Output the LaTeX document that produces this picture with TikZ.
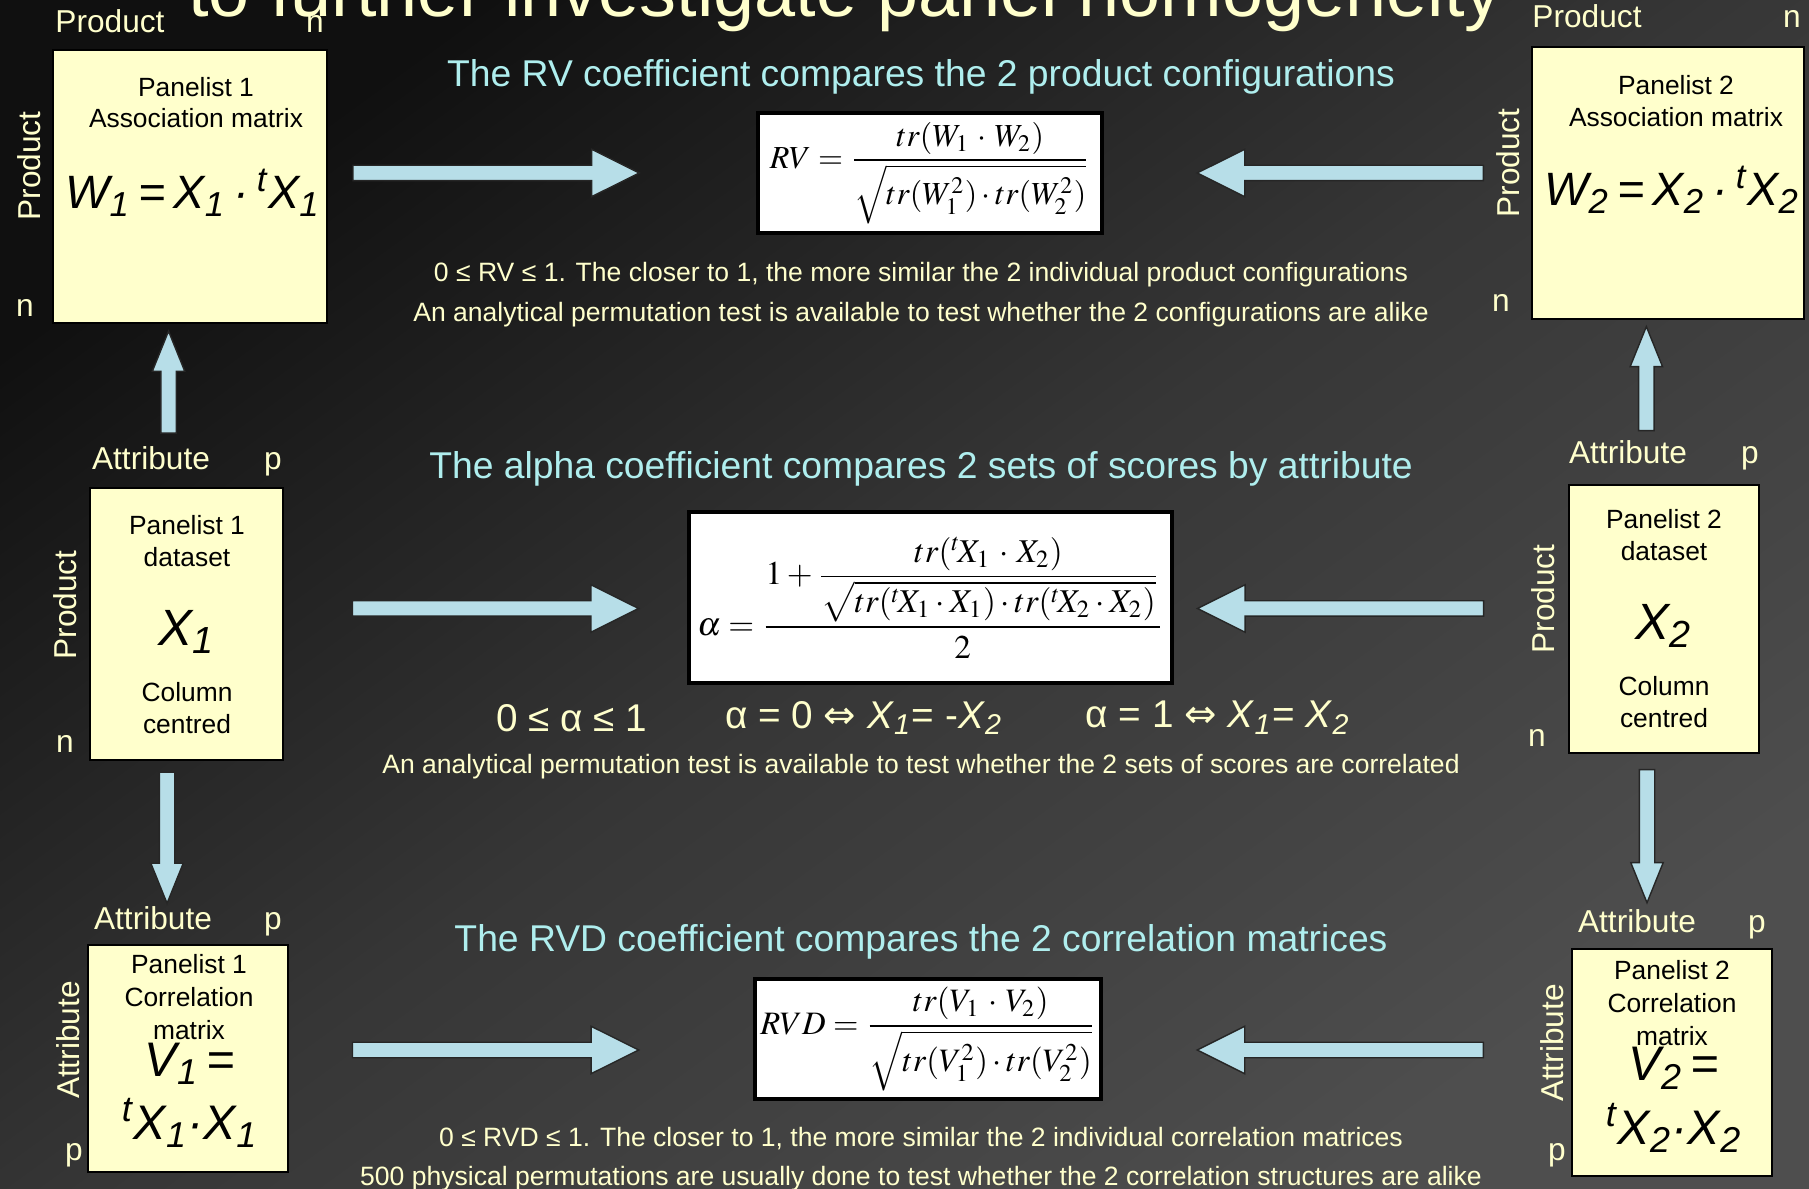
\documentclass[tikz,border=0pt]{standalone}
\usepackage{graphicx}
\usepackage{amsmath}
\usepackage{mathptmx}
\usepackage[no-math]{fontspec}
\setmainfont{Liberation Sans}
\newfontfamily\arrowsymbols{DejaVu Sans}
\usetikzlibrary{
  positioning,
  calc,
  shapes.arrows
}
\definecolor{panelyellow}{RGB}{255,255,204}
\definecolor{creamtext}{RGB}{255,255,204}
\definecolor{headcyan}{RGB}{175,238,238}
\definecolor{arrowblue}{RGB}{183,222,232}
\definecolor{bgdark}{RGB}{16,16,16}
\definecolor{bgmid}{RGB}{54,54,54}
\definecolor{bglight}{RGB}{78,78,78}
\tikzset{
  panelbox/.style={draw=black,line width=0.75pt,fill=panelyellow,inner sep=0pt},
  boxcaption/.style={
    align=center,
    inner sep=0pt,
    text=black,
    font=\fontsize{7.5}{8.9}\selectfont
  },
  boxsymbol/.style={
    align=center,
    inner sep=0pt,
    text=black,
    font=\fontsize{14.5}{18}\selectfont\itshape
  },
  axislabel/.style={inner sep=0pt,text=creamtext,font=\fontsize{9}{10}\selectfont},
  formulabox/.style={draw=black,line width=1pt,fill=white,inner sep=0pt},
  heading/.style={inner sep=0pt,text=headcyan,font=\fontsize{10.6}{12}\selectfont},
  note/.style={inner sep=0pt,text=creamtext,font=\fontsize{7.55}{9}\selectfont},
  rangenote/.style={inner sep=0pt,text=creamtext,font=\fontsize{11}{12}\selectfont},
  hblock/.style={
    single arrow,
    draw=black!85,
    line width=0.4pt,
    fill=arrowblue,
    inner sep=0.07cm,
    minimum width=0pt,
    single arrow head extend=0.16cm,
    single arrow tip angle=53,
    minimum height=2.86cm
  },
  vblock/.style={hblock,single arrow head extend=0.085cm,single arrow tip angle=44}
}
\begin{document}
\begin{tikzpicture}[x=0.01cm,y=-0.01cm]
  \useasboundingbox (0,0) rectangle (1809,1189);
  \clip (0,0) rectangle (1809,1189);
  \shade[top color=bgdark,bottom color=bglight,middle color=bgmid,shading angle=36]
    (0,0) rectangle (1809,1189);
  \node[anchor=base,inner sep=0pt,text=creamtext,font=\fontsize{21}{24}\selectfont] (title)
    at (845,17) {to further investigate panel homogeneity};

  \node[panelbox,minimum width=2.74cm,minimum height=2.73cm] (w1) at (190,186.5) {};
  \node[boxcaption] (w1-cap) at (196,102.5) {Panelist 1\\Association matrix};
  \node[boxsymbol,font=\fontsize{13.3}{16}\selectfont\itshape] (w1-eq) at (193,193) {W\textsubscript{1}\,=\,X\textsubscript{1}\,·\,\textsuperscript{t}X\textsubscript{1}};
  \node[axislabel,anchor=base] (w1-top) at (110,33) {Product};
  \node[axislabel,anchor=base] (w1-topn) at (315,33) {n};
  \node[axislabel,rotate=90] (w1-side) at (29,166) {Product};
  \node[axislabel,anchor=base] (w1-siden) at (25,317) {n};

  \node[panelbox,minimum width=1.93cm,minimum height=2.72cm] (x1) at (186.5,624) {};
  \node[boxcaption] (x1-cap) at (187,541) {Panelist 1\\dataset};
  \node[boxsymbol] (x1-eq) at (187,632) {X\textsubscript{1}};
  \node[boxcaption] (x1-note) at (187,708) {Column\\centred};
  \node[axislabel,anchor=base] (x1-top) at (151,470) {Attribute};
  \node[axislabel,anchor=base] (x1-topp) at (273,470) {p};
  \node[axislabel,rotate=90] (x1-side) at (65,605) {Product};
  \node[axislabel,anchor=base] (x1-siden) at (65,753) {n};

  \node[panelbox,minimum width=2.00cm,minimum height=2.27cm] (v1) at (188,1058.5) {};
  \node[boxcaption,font=\fontsize{7.5}{9.4}\selectfont] (v1-cap) at (189,997) {Panelist 1\\Correlation\\matrix};
  \node[boxsymbol,font=\fontsize{13.8}{18}\selectfont\itshape] (v1-eq) at (190,1095) {V\textsubscript{1}\,=\\\textsuperscript{t}X\textsubscript{1}·X\textsubscript{1}};
  \node[axislabel,anchor=base] (v1-top) at (153,930) {Attribute};
  \node[axislabel,anchor=base] (v1-topp) at (273,930) {p};
  \node[axislabel,rotate=90] (v1-side) at (68,1040) {Attribute};
  \node[axislabel,anchor=base] (v1-sidep) at (74,1160) {p};

  \node[panelbox,minimum width=2.72cm,minimum height=2.72cm] (w2) at (1668,183) {};
  \node[boxcaption] (w2-cap) at (1676,101) {Panelist 2\\Association matrix};
  \node[boxsymbol,font=\fontsize{13.3}{16}\selectfont\itshape] (w2-eq) at (1672,190) {W\textsubscript{2}\,=\,X\textsubscript{2}\,·\,\textsuperscript{t}X\textsubscript{2}};
  \node[axislabel,anchor=base] (w2-top) at (1587,28) {Product};
  \node[axislabel,anchor=base] (w2-topn) at (1792,28) {n};
  \node[axislabel,rotate=90] (w2-side) at (1508,163) {Product};
  \node[axislabel,anchor=base] (w2-siden) at (1501,312) {n};

  \node[panelbox,minimum width=1.90cm,minimum height=2.68cm] (x2) at (1664,619) {};
  \node[boxcaption] (x2-cap) at (1664,535) {Panelist 2\\dataset};
  \node[boxsymbol] (x2-eq) at (1664,626) {X\textsubscript{2}};
  \node[boxcaption] (x2-note) at (1664,702) {Column\\centred};
  \node[axislabel,anchor=base] (x2-top) at (1628,464) {Attribute};
  \node[axislabel,anchor=base] (x2-topp) at (1750,464) {p};
  \node[axislabel,rotate=90] (x2-side) at (1543,599) {Product};
  \node[axislabel,anchor=base] (x2-siden) at (1537,747) {n};

  \node[panelbox,minimum width=2.00cm,minimum height=2.27cm] (v2) at (1672,1062.5) {};
  \node[boxcaption,font=\fontsize{7.5}{9.4}\selectfont] (v2-cap) at (1672,1003) {Panelist 2\\Correlation\\matrix};
  \node[boxsymbol,font=\fontsize{13.8}{18}\selectfont\itshape] (v2-eq) at (1674,1100) {V\textsubscript{2}\,=\\\textsuperscript{t}X\textsubscript{2}·X\textsubscript{2}};
  \node[axislabel,anchor=base] (v2-top) at (1637,933) {Attribute};
  \node[axislabel,anchor=base] (v2-topp) at (1757,933) {p};
  \node[axislabel,rotate=90] (v2-side) at (1552,1043) {Attribute};
  \node[axislabel,anchor=base] (v2-sidep) at (1557,1160) {p};

  \node[heading] (rv-head) at (921,76.5) {The RV coefficient compares the 2 product configurations};
  \node[formulabox,minimum width=3.44cm,minimum height=1.2cm] (rv) at (930,173)
    {\resizebox{3.2cm}{!}{$\displaystyle RV=\frac{tr(W_1\,\cdot\,W_2)}{\sqrt{tr(W_1^2)\cdot tr(W_2^2)}}$}};
  \node[note] (rv-range) at (921,274.5) {0 ≤ RV ≤ 1. The closer to 1, the more similar the 2 individual product configurations};
  \node[note] (rv-test) at (921,314.5) {An analytical permutation test is available to test whether the 2 configurations are alike};

  \node[heading] (a-head) at (921,468.5) {The alpha coefficient compares 2 sets of scores by attribute};
  \node[formulabox,minimum width=4.83cm,minimum height=1.71cm] (alpha) at (930.5,597.5)
    {\resizebox{4.66cm}{!}{$\displaystyle \alpha=\frac{1+\dfrac{tr({}^{t}\!X_1\,\cdot\,X_2)}{\sqrt{tr({}^{t}\!X_1\cdot X_1)\cdot tr({}^{t}\!X_2\cdot X_2)}}}{2}$}};
  \node[rangenote] (a-range) at (572,718) {0 ≤ α ≤ 1};
  \node[rangenote] (a-zero) at (864,718) {α = 0 {\arrowsymbols ⇔} \textit{X}\textsubscript{\textit{1}}= -\textit{X}\textsubscript{\textit{2}}};
  \node[rangenote] (a-one) at (1218,718) {α = 1 {\arrowsymbols ⇔} \textit{X}\textsubscript{\textit{1}}= \textit{X}\textsubscript{\textit{2}}};
  \node[note] (a-test) at (921,766.5) {An analytical permutation test is available to test whether the 2 sets of scores are correlated};

  \node[heading] (rvd-head) at (921,941.5) {The RVD coefficient compares the 2 correlation matrices};
  \node[formulabox,minimum width=3.46cm,minimum height=1.2cm] (rvd) at (928,1039)
    {\resizebox{3.35cm}{!}{$\displaystyle RVD=\frac{tr(V_1\,\cdot\,V_2)}{\sqrt{tr(V_1^2)\cdot tr(V_2^2)}}$}};
  \node[note] (rvd-range) at (921,1139) {0 ≤ RVD ≤ 1. The closer to 1, the more similar the 2 individual correlation matrices};
  \node[note] (rvd-test) at (921,1179) {500 physical permutations are usually done to test whether the 2 correlation structures are alike};

  \path (w1.east |- rv.west) -- (rv.west) node[hblock,pos=0.374] (arr-w1) {};
  \path (w2.west |- rv.east) -- (rv.east) node[hblock,rotate=180,pos=0.428] (arr-w2) {};
  \path ($(x1.east |- alpha.west)+(0,11)$) -- ($(alpha.west)+(0,11)$) node[hblock,pos=0.505] (arr-x1) {};
  \path ($(x2.west |- alpha.east)+(0,11)$) -- ($(alpha.east)+(0,11)$) node[hblock,rotate=180,pos=0.557] (arr-x2) {};
  \path ($(v1.east |- rvd.west)+(0,11)$) -- ($(rvd.west)+(0,11)$) node[hblock,pos=0.428] (arr-v1) {};
  \path ($(v2.west |- rvd.east)+(0,11)$) -- ($(rvd.east)+(0,11)$) node[hblock,rotate=180,pos=0.476] (arr-v2) {};

  \path ($(x1.north)+(-20,0)$) -- ($(w1.south)+(-20,0)$) node[vblock,rotate=90,minimum height=1.02cm,pos=0.585] (arr-up1) {};
  \path ($(x1.south)+(-20,0)$) -- ($(v1.north)+(-20,0)$) node[vblock,rotate=-90,minimum height=1.31cm,pos=0.367] (arr-down1) {};
  \path ($(x2.north)+(-20,0)$) -- ($(w2.south)+(-20,0)$) node[vblock,rotate=90,minimum height=1.04cm,pos=0.585] (arr-up2) {};
  \path ($(x2.south)+(-20,0)$) -- ($(v2.north)+(-20,0)$) node[vblock,rotate=-90,minimum height=1.33cm,pos=0.374] (arr-down2) {};
\end{tikzpicture}
\end{document}
